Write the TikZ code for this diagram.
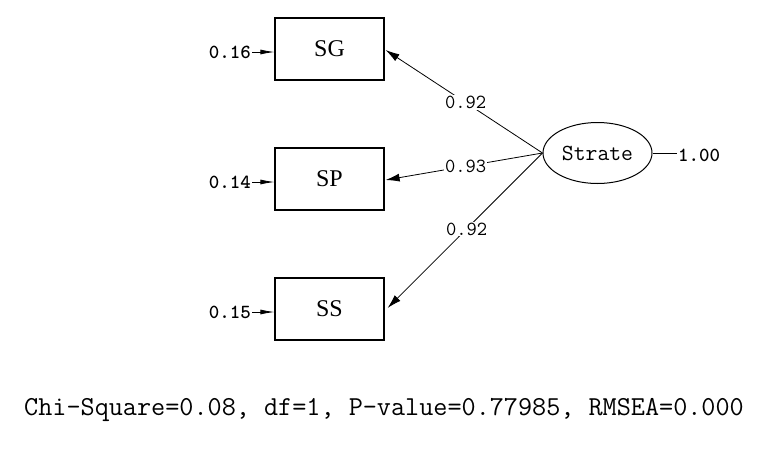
\documentclass[tikz,border=0pt]{standalone}
\usepackage{fontspec}
\setmainfont{Liberation Serif}
\usetikzlibrary{shapes.geometric,arrows.meta,calc}
\begin{document}
\begin{tikzpicture}[x=1pt,y=-1pt,
  obs/.style={draw,line width=1.2pt,minimum width=109pt,minimum height=62pt,inner sep=0pt,font=\fontsize{24}{24}\selectfont},
  lat/.style={draw,ellipse,line width=1pt,minimum width=109pt,minimum height=61pt,inner sep=0pt,font=\ttfamily\fontsize{23}{23}\selectfont},
  num/.style={font=\ttfamily\bfseries\fontsize{20}{20}\selectfont,inner sep=1pt},
  lbl/.style={font=\ttfamily\fontsize{20}{20}\selectfont,fill=white,inner sep=1pt},
  arr/.style={line width=0.8pt,-{Latex[length=14pt,width=8pt]}},
  earr/.style={line width=0.8pt,-{Latex[length=14pt,width=5pt]}}]
\useasboundingbox (0,0) rectangle (777,467);
\node[obs] (SG) at (329.5,49) {SG};
\node[obs] (SP) at (329.5,179) {SP};
\node[obs] (SS) at (329.5,309) {SS};
\node[lat] (St) at (597.5,153) {Strate};
\node[num,anchor=east] (e1) at (252,52) {0.16};
\node[num,anchor=east] (e2) at (252,182) {0.14};
\node[num,anchor=east] (e3) at (252,312) {0.15};
\node[num,anchor=west] (v) at (677,155) {1.00};
\draw[earr] (e1.east) -- (SG.west |- e1.east);
\draw[earr] (e2.east) -- (SP.west |- e2.east);
\draw[earr] (e3.east) -- (SS.west |- e3.east);
\draw[line width=0.8pt] (St.east) -- (v.west |- St.east);
\draw[arr] (St.west) -- node[lbl,pos=0.49]{0.92} ($(SG.east)+(1,1)$);
\draw[arr] (St.west) -- node[lbl,pos=0.49]{0.93} ($(SP.east)+(1,1)$);
\draw[arr] (St.west) -- node[lbl,pos=0.49]{0.92} ($(SS.east)+(3,-1)$);
\node[font=\ttfamily\fontsize{27.4}{27.4}\selectfont,anchor=west,inner sep=0pt] (fit) at (24,410) {Chi-Square=0.08, df=1, P-value=0.77985, RMSEA=0.000};
\end{tikzpicture}
\end{document}
